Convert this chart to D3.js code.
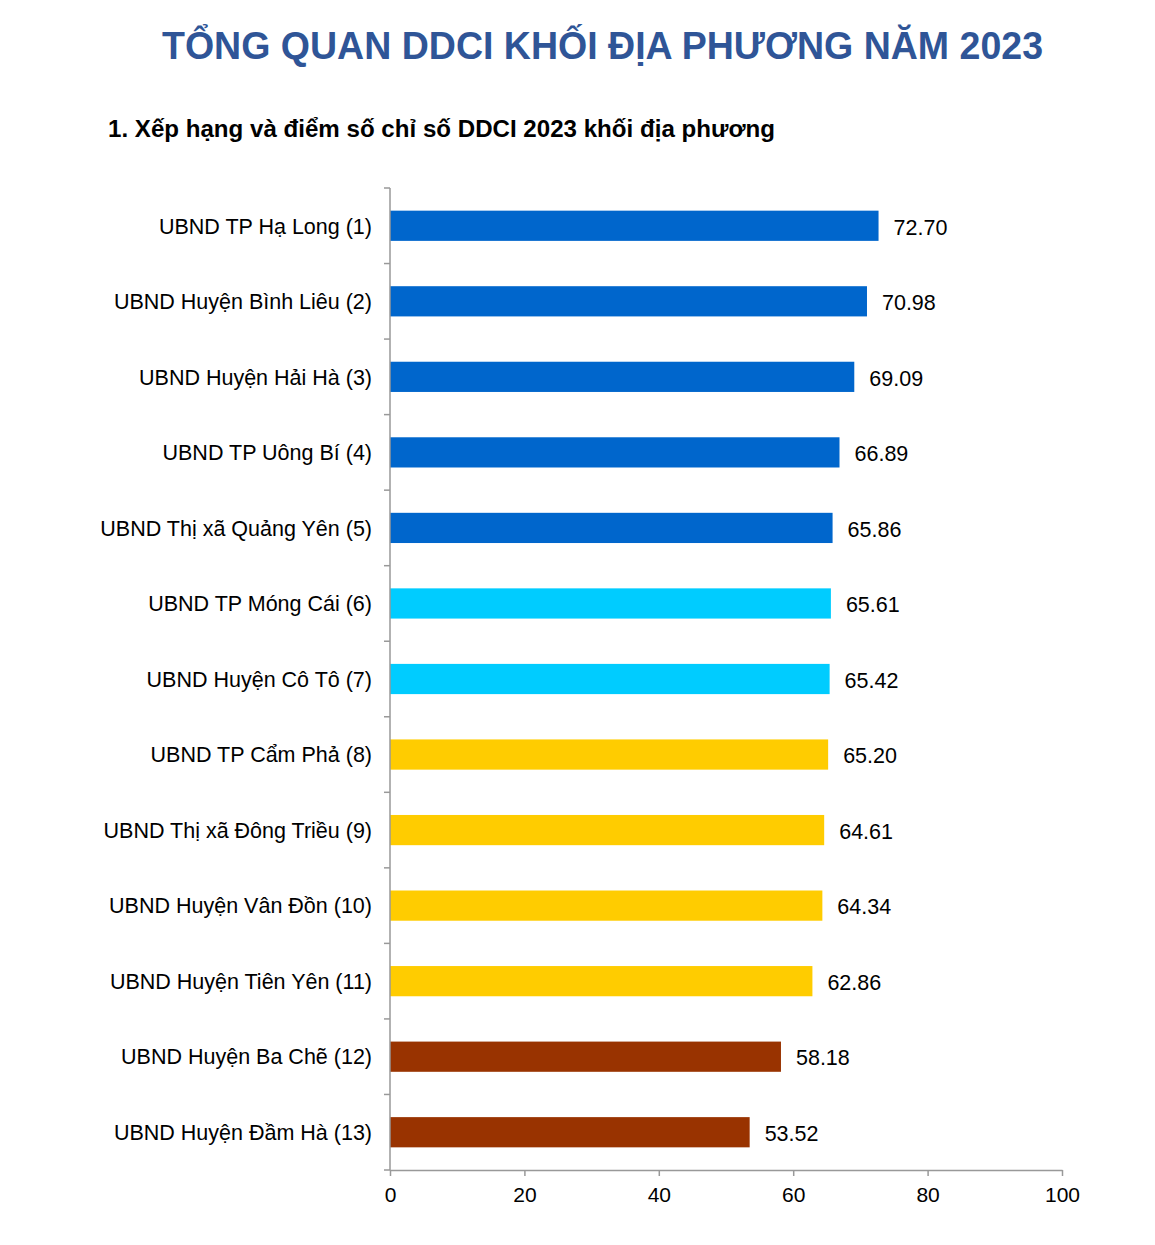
<!DOCTYPE html>
<html><head><meta charset="utf-8">
<script src="https://cdn.jsdelivr.net/npm/d3@7"></script>
<style>body{margin:0;background:#fff;} svg{display:block;font-family:"Liberation Sans",Arial,sans-serif;}</style>
</head><body>
<script>
const categories = ["UBND TP Hạ Long (1)","UBND Huyện Bình Liêu (2)","UBND Huyện Hải Hà (3)","UBND TP Uông Bí (4)","UBND Thị xã Quảng Yên (5)","UBND TP Móng Cái (6)","UBND Huyện Cô Tô (7)","UBND TP Cẩm Phả (8)","UBND Thị xã Đông Triều (9)","UBND Huyện Vân Đồn (10)","UBND Huyện Tiên Yên (11)","UBND Huyện Ba Chẽ (12)","UBND Huyện Đầm Hà (13)"];
const values = [72.70,70.98,69.09,66.89,65.86,65.61,65.42,65.20,64.61,64.34,62.86,58.18,53.52];
const groups = ["a","a","a","a","a","b","b","c","c","c","c","d","d"];
const groupColors = {a:"#0066CC",b:"#00CCFF",c:"#FFCC00",d:"#993300"};
const xTicks = [0,20,40,60,80,100];

const W=1155,H=1245;
const svg=d3.select("body").append("svg").attr("width",W).attr("height",H);

svg.append("text").attr("x",162).attr("y",59).attr("font-size",38).attr("font-weight","bold")
  .attr("fill","#2F5597").attr("textLength",881).attr("lengthAdjust","spacingAndGlyphs")
  .text("TỔNG QUAN DDCI KHỐI ĐỊA PHƯƠNG NĂM 2023");
svg.append("text").attr("x",108).attr("y",137).attr("font-size",23).attr("font-weight","bold")
  .attr("fill","#000").attr("textLength",667).attr("lengthAdjust","spacingAndGlyphs")
  .text("1. Xếp hạng và điểm số chỉ số DDCI 2023 khối địa phương");

const x=d3.scaleLinear().domain([0,100]).range([390,1062]);
const y=d3.scaleBand().domain(categories).range([188,1170]).paddingInner(0.6).paddingOuter(0.3);
const step=y.step();

// bars
svg.append("g").selectAll("rect").data(values).join("rect")
  .attr("x",x(0)).attr("y",(d,i)=>y(categories[i]))
  .attr("width",d=>x(d)-x(0)).attr("height",y.bandwidth())
  .attr("fill",(d,i)=>groupColors[groups[i]]);

// value labels
svg.append("g").selectAll("text").data(values).join("text")
  .attr("x",d=>x(d)+15).attr("y",(d,i)=>y(categories[i])+y.bandwidth()/2+1)
  .attr("dy","0.36em").attr("font-size",21.5).attr("fill","#000")
  .text(d=>d.toFixed(2));

// category labels
svg.append("g").selectAll("text").data(categories).join("text")
  .attr("x",372).attr("y",d=>y(d)+y.bandwidth()/2).attr("dy","0.36em")
  .attr("text-anchor","end").attr("font-size",21.5).attr("fill","#000").text(d=>d);

// y axis line and ticks at band boundaries
const axisColor="#999";
svg.append("line").attr("x1",390).attr("x2",390).attr("y1",188).attr("y2",1170).attr("stroke",axisColor).attr("stroke-width",1.5);
const bounds=d3.range(categories.length+1).map(i=>188+i*step);
svg.append("g").selectAll("line").data(bounds).join("line")
  .attr("x1",384).attr("x2",390).attr("y1",d=>d).attr("y2",d=>d).attr("stroke",axisColor).attr("stroke-width",1.5);

// x axis
const xAxis=svg.append("g").attr("transform","translate(0,1170)")
  .call(d3.axisBottom(x).tickValues(xTicks).tickSize(6).tickSizeOuter(0).tickPadding(11));
xAxis.select(".domain").attr("stroke",axisColor).attr("stroke-width",1.5);
xAxis.selectAll(".tick line").attr("stroke",axisColor).attr("stroke-width",1.5);
xAxis.selectAll(".tick text").attr("font-size",21).attr("fill","#000").attr("font-family","Liberation Sans, Arial, sans-serif");
</script>
</body></html>
